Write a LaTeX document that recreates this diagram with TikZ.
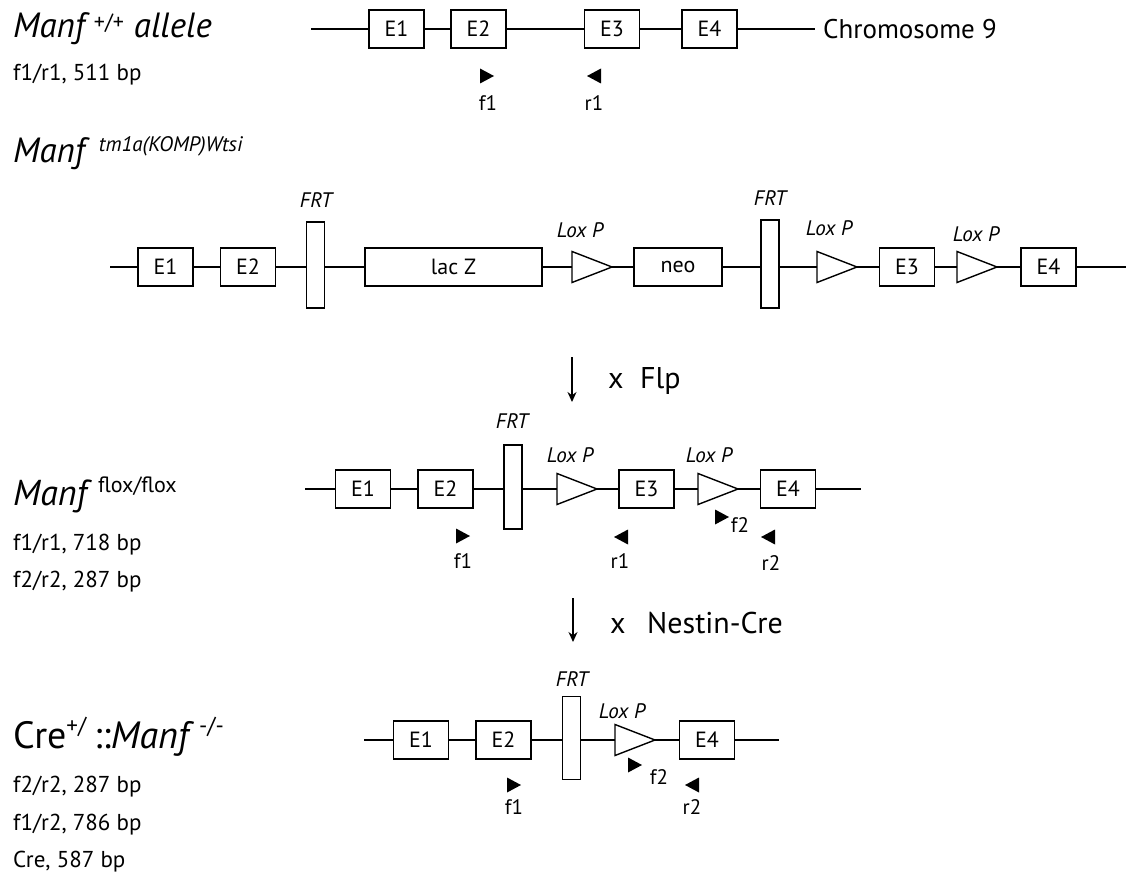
\documentclass[tikz,border=0pt]{standalone}
\usepackage{fontspec}
\setmainfont{PT Sans}
\usetikzlibrary{arrows.meta}
\newcommand\loxp[3]{%
  \path (#2,#3) coordinate (#1a) ++(40,0) coordinate (#1b);
  \draw[lox] (#1a) ++(0,-15.5) -- ++(40,15.5) -- ++(-40,15.5) -- cycle;}
\newcommand\fwdp[2]{\fill (#1,#2) ++(-7,-7.5) -- ++(14,7.5) -- ++(-14,7.5) -- cycle;}
\newcommand\revp[2]{\fill (#1,#2) ++(7,-7.5) -- ++(-14,7.5) -- ++(14,7.5) -- cycle;}
\begin{document}
\begin{tikzpicture}[x=1pt,y=-1pt,
  gl/.style={line width=1.4pt},
  exon/.style={draw,line width=1.4pt,minimum width=55pt,minimum height=38pt,inner sep=0pt,font=\fontsize{22}{22}\selectfont},
  frt/.style={draw,line width=1.4pt,minimum width=18pt,inner sep=0pt},
  site/.style={font=\fontsize{21}{21}\selectfont\itshape,inner sep=0pt},
  plab/.style={font=\fontsize{21}{21}\selectfont,inner sep=0pt},
  lox/.style={line width=1.4pt,line join=miter},
  info/.style={anchor=base west,font=\fontsize{23}{23}\selectfont,inner sep=0pt},
  title/.style={anchor=base west,inner sep=0pt},
  cross/.style={anchor=base west,font=\fontsize{30}{30}\selectfont,inner sep=0pt},
  step arrow/.style={line width=1.3pt,-{Stealth[length=10pt,width=9pt]}}
]
\useasboundingbox (0,0) rectangle (1126,877);

% ---------- left labels ----------
\node[title,font=\fontsize{35}{35}\selectfont] (t1) at (13,38)
  {\textit{Manf}\hspace{4pt}\raisebox{8pt}{\fontsize{22}{22}\selectfont +/+}\hspace{10pt}\textit{allele}};
\node[info] (i1) at (13,81) {f1/r1, 511 bp};
\node[title,font=\fontsize{35}{35}\selectfont] (t2) at (13,163)
  {\textit{Manf}\hspace{9pt}\raisebox{11pt}{\fontsize{21}{21}\selectfont\itshape tm1a(KOMP)Wtsi}};
\node[title,font=\fontsize{36}{36}\selectfont] (t3) at (13,505)
  {\textit{Manf}\hspace{6pt}\raisebox{13pt}{\fontsize{22}{22}\selectfont flox/flox}};
\node[info] (i3a) at (13,550) {f1/r1, 718 bp};
\node[info] (i3b) at (13,587) {f2/r2, 287 bp};
\node[title,font=\fontsize{38}{38}\selectfont] (t4) at (13,748)
  {Cre\raisebox{15pt}{\fontsize{23}{23}\selectfont +/}\hspace{8pt}::\textit{Manf}\hspace{5pt}\raisebox{15pt}{\fontsize{23}{23}\selectfont -/-}};
\node[info] (i4a) at (13,792) {f2/r2, 287 bp};
\node[info] (i4b) at (13,830) {f1/r2, 786 bp};
\node[info] (i4c) at (13,867) {Cre, 587 bp};

% ---------- row 1 ----------
\coordinate (a0) at (311,29);
\node[exon] (a1) at (396.5,29) {E1};
\node[exon] (a2) at (478.5,29) {E2};
\node[exon] (a3) at (612,29) {E3};
\node[exon] (a4) at (709.5,29) {E4};
\coordinate (a9) at (815,29);
\draw[gl] (a0) -- (a1) -- (a2) -- (a3) -- (a4) -- (a9);
\node[anchor=west,font=\fontsize{27}{27}\selectfont,inner sep=0pt] (chr) at (823,29) {Chromosome 9};
\fwdp{487}{76}
\revp{594}{76}
\node[plab] (af1) at (488,103) {f1};
\node[plab] (ar1) at (594,103) {r1};

% ---------- row 2 ----------
\coordinate (b0) at (110,267);
\node[exon] (b1) at (165.5,267) {E1};
\node[exon] (b2) at (248,267) {E2};
\node[frt,minimum height=86pt] (bf1) at (315.5,265) {};
\node[exon,minimum width=177pt] (blac) at (453.5,267) {lac Z};
\loxp{bla}{572}{267}
\node[exon,minimum width=88pt] (bneo) at (678,267) {neo};
\node[frt,minimum height=88pt] (bf2) at (770,264) {};
\loxp{blb}{817}{267}
\node[exon] (b3) at (907,267) {E3};
\loxp{blc}{957}{267}
\node[exon] (b4) at (1048.5,267) {E4};
\coordinate (b9) at (1126,267);
\draw[gl] (b0) -- (b1) -- (b2) -- (b2 -| bf1.west);
\draw[gl] (b2 -| bf1.east) -- (blac) -- (blaa);
\draw[gl] (blab) -- (bneo) -- (bneo -| bf2.west);
\draw[gl] (bneo -| bf2.east) -- (blba);
\draw[gl] (blbb) -- (b3) -- (blca);
\draw[gl] (blcb) -- (b4) -- (b9);
\node[site] (bt1) at (316,200) {FRT};
\node[site] (bt2) at (770,198) {FRT};
\node[site] (bx1) at (580,230) {Lox P};
\node[site] (bx2) at (829,228) {Lox P};
\node[site] (bx3) at (976,234) {Lox P};

% ---------- x Flp ----------
\coordinate (fa) at (572,357);
\coordinate (fb) at (572,402);
\draw[step arrow] (fa) -- (fb);
\node[cross] (fx) at (608,388) {x};
\node[cross] (fl) at (640,388) {Flp};

% ---------- row 3 ----------
\coordinate (c0) at (305,489);
\node[exon] (c1) at (363,489) {E1};
\node[exon] (c2) at (445.5,489) {E2};
\node[frt,minimum height=84pt] (cf) at (513,487) {};
\loxp{cla}{557}{489}
\node[exon] (c3) at (646.5,489) {E3};
\loxp{clb}{698}{489}
\node[exon] (c4) at (788,489) {E4};
\coordinate (c9) at (861,489);
\draw[gl] (c0) -- (c1) -- (c2) -- (c2 -| cf.west);
\draw[gl] (c2 -| cf.east) -- (claa);
\draw[gl] (clab) -- (c3) -- (clba);
\draw[gl] (clbb) -- (c4) -- (c9);
\node[site] (ct1) at (512,421) {FRT};
\node[site] (cx1) at (570,455) {Lox P};
\node[site] (cx2) at (709,455) {Lox P};
\fwdp{463}{536}
\revp{621}{537}
\fwdp{722}{517}
\revp{768}{537}
\node[plab] (cf1) at (463,561) {f1};
\node[plab] (cr1) at (620,561) {r1};
\node[plab] (cf2) at (740,525) {f2};
\node[plab] (cr2) at (771,563) {r2};

% ---------- x Nestin-Cre ----------
\coordinate (na) at (573,598);
\coordinate (nb) at (573,642);
\draw[step arrow] (na) -- (nb);
\node[cross] (nx) at (610,633) {x};
\node[cross] (nl) at (647,633) {Nestin-Cre};

% ---------- row 4 ----------
\coordinate (d0) at (364,740);
\node[exon] (d1) at (421,740) {E1};
\node[exon] (d2) at (503.5,740) {E2};
\node[frt,minimum height=83pt] (df) at (571.5,738) {};
\loxp{dla}{615}{740}
\node[exon] (d4) at (707,740) {E4};
\coordinate (d9) at (779,740);
\draw[gl] (d0) -- (d1) -- (d2) -- (d2 -| df.west);
\draw[gl] (d2 -| df.east) -- (dlaa);
\draw[gl] (dlab) -- (d4) -- (d9);
\node[site] (dt1) at (572,679) {FRT};
\node[site] (dx1) at (622,711) {Lox P};
\fwdp{514}{785}
\fwdp{635}{765}
\revp{692}{785}
\node[plab] (df1) at (514,807) {f1};
\node[plab] (df2) at (659,777) {f2};
\node[plab] (dr2) at (692,807) {r2};
\end{tikzpicture}
\end{document}
